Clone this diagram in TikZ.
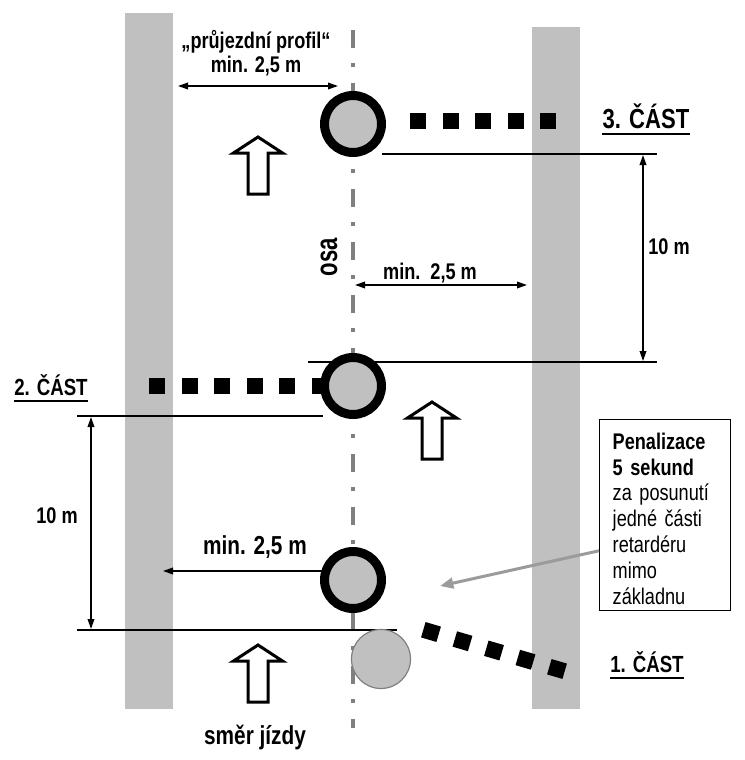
\documentclass[tikz,border=0pt]{standalone}
\usepackage{fontspec}
\setmainfont{Liberation Sans}
\newfontfamily\narrowsf{Liberation Sans}[FakeStretch=0.8]
\newfontfamily\tallsf{Liberation Sans}[FakeStretch=0.72]
\usetikzlibrary{arrows.meta,calc,positioning}

\definecolor{bargray}{RGB}{192,192,192}
\definecolor{axisgray}{RGB}{128,128,128}
\definecolor{pointgray}{RGB}{155,155,155}

\tikzset{every picture/.style={line width=0.75pt}}
\tikzset{
  laneedge/.style={rectangle, fill=bargray, draw=none, inner sep=0pt, outer sep=0pt, minimum width=36pt},
  osaline/.style={draw=axisgray, line width=3.4pt, dash pattern=on 13.5pt off 11.25pt on 3pt off 12pt},
  retarder/.style={circle, draw=black, fill=bargray, line width=6.75pt, minimum size=42.75pt, inner sep=0pt},
  shifted/.style={circle, draw=axisgray, fill=bargray, line width=0.9pt, minimum size=44.25pt, inner sep=0pt},
  chainbox/.style={rectangle, fill=black, minimum size=12pt, inner sep=0pt},
  refline/.style={line width=1pt},
  dimboth/.style={line width=1pt, {Triangle[length=7.5pt,width=5pt]}-{Triangle[length=7.5pt,width=5pt]}},
  dimone/.style={line width=1pt, -{Triangle[length=7.5pt,width=5pt]}},
  pointer/.style={draw=pointgray, line width=2.25pt, -{Triangle[length=10pt,width=8pt]}},
  drivearrow/.pic={\draw[line width=2.25pt, fill=white, miter limit=10] (0,0) -- (24.5,-16) -- (10,-16) -- (10,-57) -- (-10,-57) -- (-10,-16) -- (-24.5,-16) -- cycle;},
  lbl/.style={inner sep=0pt, font=\narrowsf\bfseries\fontsize{17}{18}\selectfont},
  biglbl/.style={inner sep=0pt, font=\narrowsf\bfseries\fontsize{19.5}{21}\selectfont},
  partlbl/.style={inner sep=0pt, font=\narrowsf\bfseries\fontsize{17.5}{19}\selectfont},
  notebox/.style={draw, fill=white, line width=1.1pt, inner xsep=9.75pt, inner ysep=4.5pt, text width=78.75pt, align=left, font=\narrowsf\fontsize{17}{19.4}\selectfont}
}

\begin{document}
\begin{tikzpicture}[x=0.75pt,y=0.75pt,yscale=-1,xscale=1]
\path[use as bounding box] (0,0) rectangle (744,760);

%Shape: lane edges
\node[laneedge, minimum height=522pt] (lane l) at (149,361) {};
\node[laneedge, minimum height=511.5pt] (lane r) at (556,368) {};

%Axis
\coordinate (osa top) at (353,30);
\coordinate (osa bot) at (353,728);
\draw[osaline] (osa top) -- (osa bot);

%Reference lines
\coordinate (g3a) at (382,154); \coordinate (g3b) at (657,154);
\coordinate (g2a) at (308,362); \coordinate (g2b) at (657,362);
\coordinate (g2c) at (77,416);  \coordinate (g2d) at (323,416);
\coordinate (g1a) at (77,630);  \coordinate (g1b) at (397,630);
\draw[refline] (g3a) -- (g3b);
\draw[refline] (g2a) -- (g2b);
\draw[refline] (g2c) -- (g2d);
\draw[refline] (g1a) -- (g1b);

%Dimensions
\coordinate (d3a) at (643,155); \coordinate (d3b) at (643,361);
\coordinate (d2a) at (91,417);  \coordinate (d2b) at (91,629);
\coordinate (pa) at (178,86);   \coordinate (pb) at (338,86);
\coordinate (ra) at (355,285);  \coordinate (rb) at (527,285);
\coordinate (la) at (322,571);  \coordinate (lb) at (163,571);
\draw[dimboth] (d3a) -- (d3b);
\draw[dimboth] (d2a) -- (d2b);
\draw[dimboth] (pa) -- (pb);
\draw[dimboth] (ra) -- (rb);
\draw[dimone] (la) -- (lb);

%Chains of the three parts
\foreach \i in {0,...,4} \node[chainbox] (s3\i) at (418+32.5*\i,121) {};
\foreach \i in {0,...,5} \node[chainbox] (s2\i) at (157+32.5*\i,386) {};
\foreach \i in {0,...,4} \node[chainbox, rotate=-16.4] (s1\i) at (431+31.5*\i,632+9.25*\i) {};

%Shape: Circles
\node[shifted] (c0) at (381,659) {};
\node[retarder] (c3) at (353,124) {};
\node[retarder] (c2) at (353,386) {};
\node[retarder] (c1) at (353,580) {};

%Penalty note
\node[notebox, anchor=north west] (pen) at (599,419) {\rule{0pt}{17.6pt}\textbf{Penalizace}\\\textbf{5 sekund}\\za posunutí\\jedné části\\retardéru\\mimo\\základnu};
\coordinate (ptip) at (440,586);
\draw[pointer] ($(pen.north west)!0.685!(pen.south west)$) -- (ptip);

%Driving direction arrows
\pic (dir3) at (258,137) {drivearrow};
\pic (dir2) at (432,402) {drivearrow};
\pic (dir1) at (258,645) {drivearrow};

%Labels
\node[lbl, align=center] (profil) at (256,53) {„průjezdní profil“\\min. 2,5 m};
\node[lbl] (minr) at (430,273) {min.\ \ 2,5 m};
\node[biglbl] (minl) at (255,547) {min. 2,5 m};
\node[biglbl] (smer) at (255,737) {směr jízdy};
\node[lbl, font=\tallsf\bfseries\fontsize{23}{26}\selectfont, rotate=90] (osa) at (329,257) {osa};
\node[lbl] (len3) at (669,247) {10 m};
\node[lbl] (len2) at (57,516) {10 m};
\node[partlbl, font=\narrowsf\bfseries\fontsize{20.7}{23}\selectfont] (part3) at (646,116) {3. ČÁST};
\node[partlbl] (part2) at (51,385) {2. ČÁST};
\node[partlbl] (part1) at (647,662) {1. ČÁST};
\draw[line width=1.5pt] ($(part3.south west)+(0,5)$) -- ($(part3.south east)+(0,5)$);
\draw[line width=1.5pt] ($(part2.south west)+(0,5)$) -- ($(part2.south east)+(0,5)$);
\draw[line width=1.5pt] ($(part1.south west)+(0,5)$) -- ($(part1.south east)+(0,5)$);

\end{tikzpicture}
\end{document}
